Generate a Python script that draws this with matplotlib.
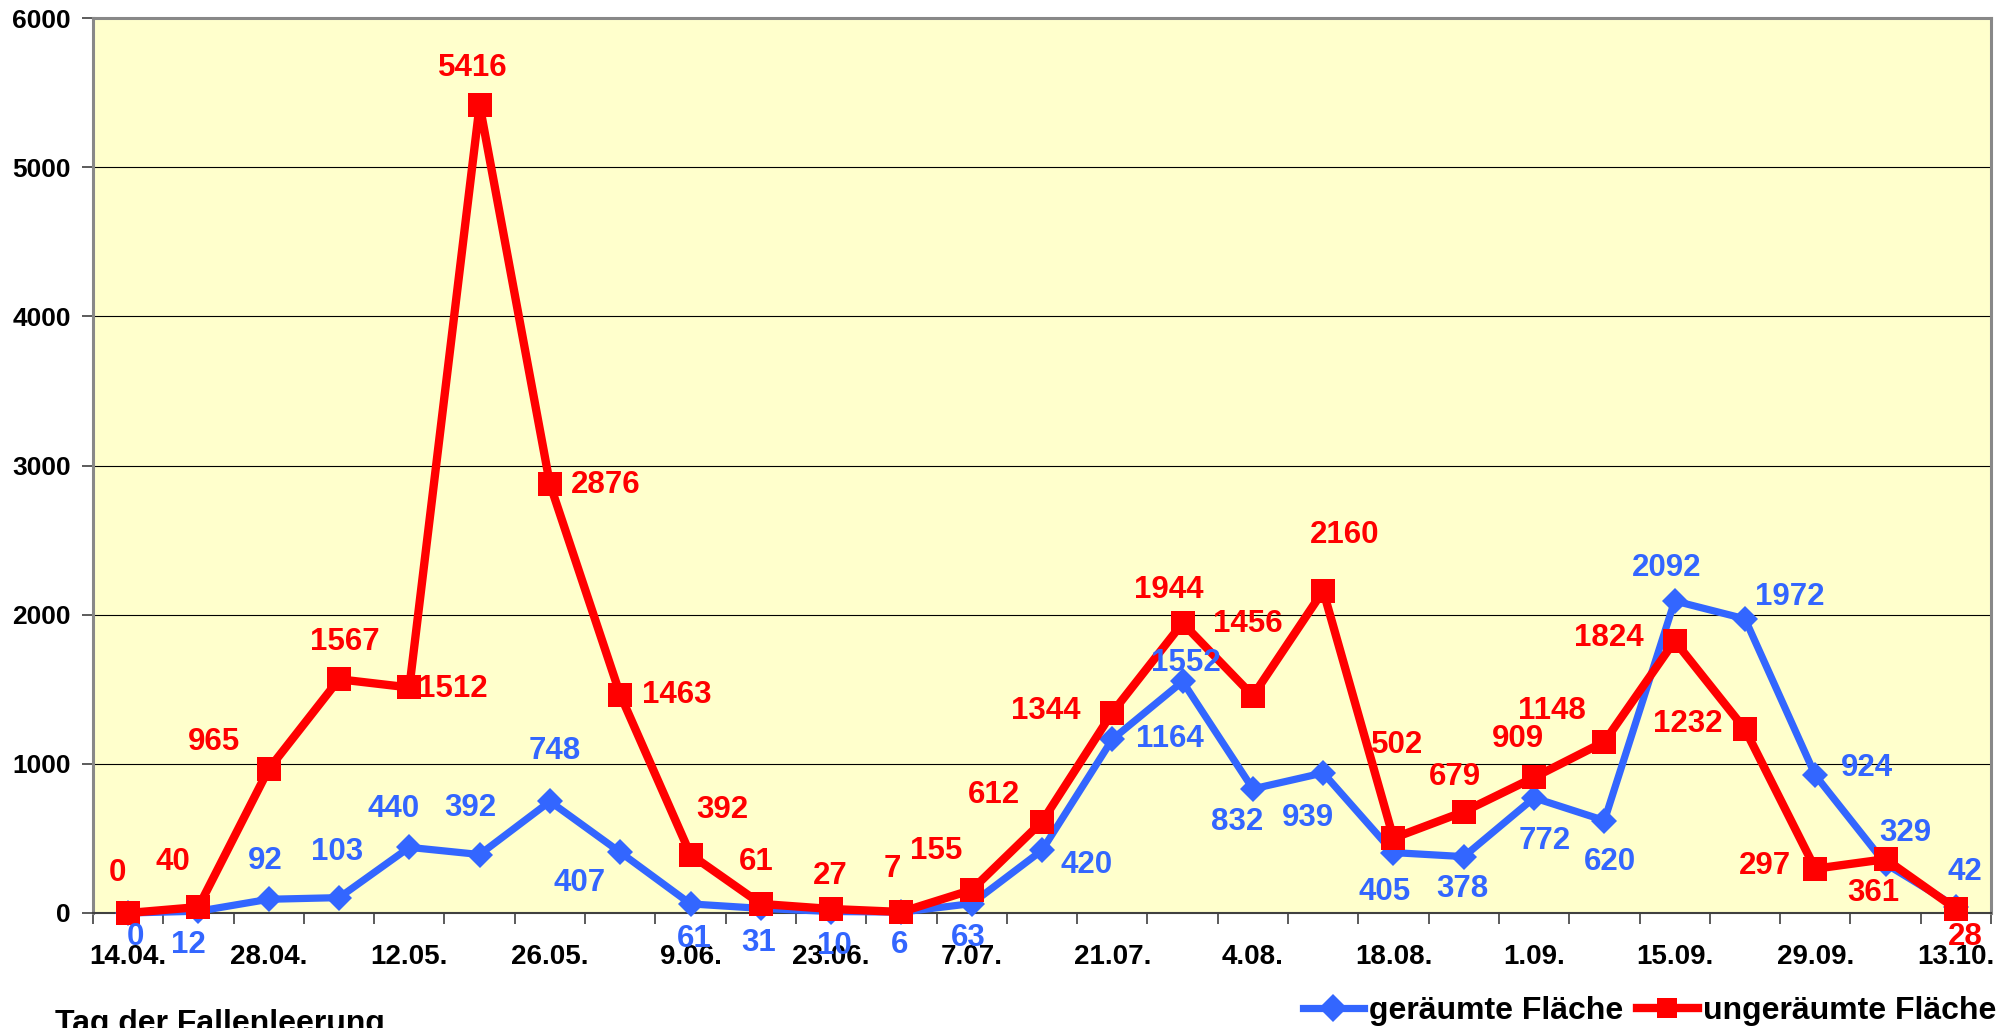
import matplotlib
matplotlib.use('Agg')
import matplotlib.pyplot as plt
from matplotlib.ticker import FixedLocator, NullFormatter

plt.rcParams['font.family'] = ['Liberation Sans', 'DejaVu Sans']
plt.rcParams['font.weight'] = 'bold'

# ---------------- data ----------------
dates = ["14.04.", "21.04.", "28.04.", "5.05.", "12.05.", "19.05.", "26.05.",
         "2.06.", "9.06.", "16.06.", "23.06.", "30.06.", "7.07.", "14.07.",
         "21.07.", "28.07.", "4.08.", "11.08.", "18.08.", "25.08.", "1.09.",
         "8.09.", "15.09.", "22.09.", "29.09.", "6.10.", "13.10."]
geraeumt = [0, 12, 92, 103, 440, 392, 748, 407, 61, 31, 10, 6, 63, 420,
            1164, 1552, 832, 939, 405, 378, 772, 620, 2092, 1972, 924, 329, 42]
ungeraeumt = [0, 40, 965, 1567, 1512, 5416, 2876, 1463, 392, 61, 27, 7, 155,
              612, 1344, 1944, 1456, 2160, 502, 679, 909, 1148, 1824, 1232,
              297, 361, 28]
series_names = ["geräumte Fläche", "ungeräumte Fläche"]
y_ticks = [0, 1000, 2000, 3000, 4000, 5000, 6000]
x_title = "Tag der Fallenleerung"

# label offsets (pixels, dx right / dy up) as placed in the original
red_off = [(-11, 40), (-26, 45), (-55, 27), (6, 37), (43, -2), (-7, 37), (56, -1),
           (57, 0), (32, 45), (-5, 42), (-1, 33), (-9, 43), (-36, 39), (-48, 27),
           (-67, 2), (-14, 33), (-5, 72), (21, 56), (4, 93), (-9, 35), (-16, 38),
           (-52, 31), (-66, 3), (-57, 5), (-50, 3), (-12, -34), (9, -28)]
blue_off = [(7, -24), (-10, -34), (-3, 38), (-2, 46), (-16, 38), (-9, 47), (5, 50),
            (-41, -31), (4, -35), (-2, -35), (3, -34), (-2, -33), (-3, -34), (45, -15),
            (58, 0), (3, 18), (-16, -33), (-15, -45), (-9, -39), (-1, -32), (11, -43),
            (6, -41), (-8, 33), (45, 22), (52, 7), (20, 31), (9, 35)]

BLUE = '#3366FF'
RED = '#FF0000'

fig = plt.figure(figsize=(20.11, 10.28), dpi=100)
fig.patch.set_facecolor('white')
ax = fig.add_axes([93 / 2011, 1 - 913 / 1028, (1991 - 93) / 2011, (913 - 18) / 1028])
ax.set_facecolor('#FFFFCC')

x = list(range(len(dates)))
lb, = ax.plot(x, geraeumt, color=BLUE, lw=5.2, marker='D', markersize=13,
              markeredgewidth=0, label=series_names[0], clip_on=False, zorder=3,
              solid_joinstyle='round')
lr, = ax.plot(x, ungeraeumt, color=RED, lw=6, marker='s', markersize=17.5,
              markeredgewidth=0, label=series_names[1], clip_on=False, zorder=4,
              solid_joinstyle='round')

for i, v in enumerate(geraeumt):
    ax.annotate(str(v), (i, v), xytext=blue_off[i], textcoords='offset pixels',
                ha='center', va='center', color=BLUE, fontsize=22.5,
                fontweight='bold', zorder=6, annotation_clip=False)
for i, v in enumerate(ungeraeumt):
    ax.annotate(str(v), (i, v), xytext=red_off[i], textcoords='offset pixels',
                ha='center', va='center', color=RED, fontsize=22.5,
                fontweight='bold', zorder=7, annotation_clip=False)

ax.set_xlim(-0.5, len(dates) - 0.5)
ax.set_ylim(0, 6000)

# x axis: labels every second category, tick marks at category boundaries
ax.xaxis.set_major_locator(FixedLocator(x[::2]))
ax.set_xticklabels(dates[::2])
ax.xaxis.set_minor_locator(FixedLocator([i - 0.5 for i in range(len(dates) + 1)]))
ax.xaxis.set_minor_formatter(NullFormatter())
ax.tick_params(axis='x', which='major', length=0, pad=22, labelsize=20)
ax.tick_params(axis='x', which='minor', length=8, width=1.2, color='#404040',
               direction='out')
for t in ax.get_xticklabels():
    t.set_fontweight('bold')

ax.set_yticks(y_ticks)
ax.set_yticklabels([str(v) for v in y_ticks])
ax.tick_params(axis='y', length=8, width=1.2, color='#404040', direction='out',
               pad=8, labelsize=19)
for t in ax.get_yticklabels():
    t.set_fontweight('bold')

ax.yaxis.grid(True, color='black', lw=0.8)
ax.set_axisbelow(True)

for s in ['top', 'right', 'left']:
    ax.spines[s].set_color('#888888')
    ax.spines[s].set_linewidth(2.2)
ax.spines['bottom'].set_color('#404040')
ax.spines['bottom'].set_linewidth(1.5)

fig.text(55 / 2011, 1 - 1032 / 1028, x_title, fontsize=23, fontweight='bold',
         ha='left', va='baseline')

leg = fig.legend(handles=[lb, lr], loc='center right', ncol=2, frameon=False,
                 bbox_to_anchor=(1996 / 2011, 1 - 1011 / 1028), borderpad=0,
                 borderaxespad=0, handlelength=1.9, handletextpad=0.15,
                 columnspacing=0.45, numpoints=1,
                 prop={'size': 23, 'weight': 'bold'})
for h in leg.legend_handles:
    h.set_markersize(14)

fig.savefig('out.png', dpi=100, facecolor='white')
